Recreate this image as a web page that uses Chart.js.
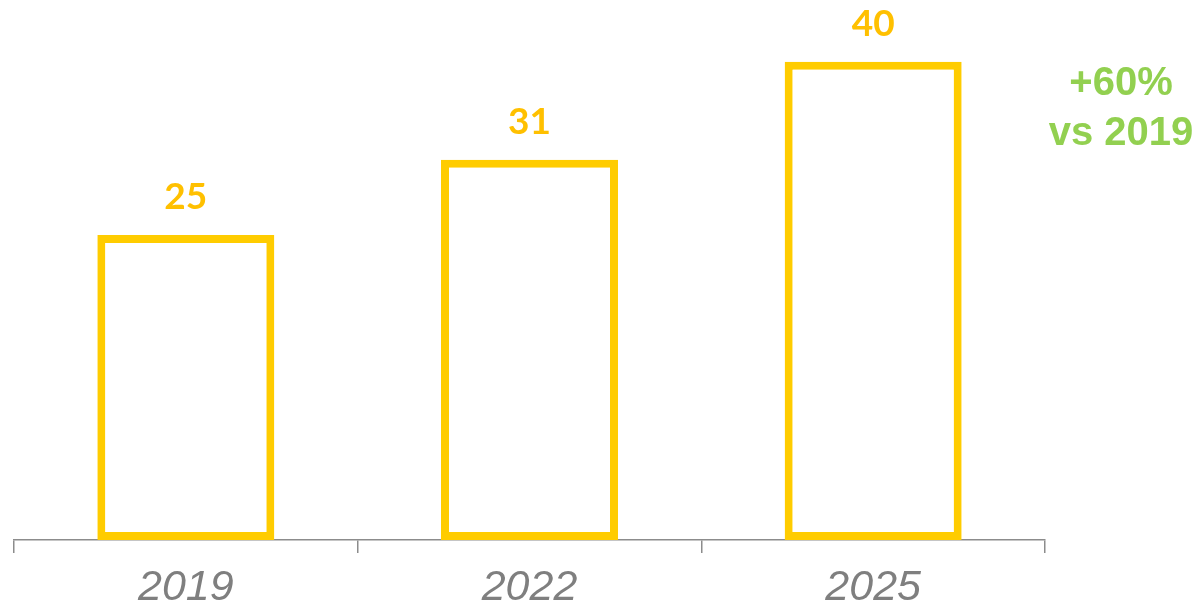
<!DOCTYPE html>
<html>
<head>
<meta charset="utf-8">
<script src="https://cdn.jsdelivr.net/npm/chart.js@4"></script>
<style>
  html, body { margin: 0; padding: 0; background: #fff; }
  #wrap { width: 1204px; height: 608px; position: relative; }
</style>
</head>
<body>
<div id="wrap"><canvas id="chart"></canvas></div>
<script>
// データ（棒の高さから読み取った値、ラベルは四捨五入）
const years = ["2019", "2022", "2025"];
const values = [25.2, 31.4, 39.5];
const noteLines = ["+60%", "vs 2019"];

const barYellow = "#FFCC00";
const labelYellow = "#FFC000";
const noteGreen = "#92D050";
const axisGray = "#8c8c8c";

// 棒の上に値を描く
const valueLabels = {
  id: "valueLabels",
  afterDatasetsDraw(chart) {
    const ctx = chart.ctx;
    const meta = chart.getDatasetMeta(0);
    ctx.save();
    ctx.fillStyle = labelYellow;
    ctx.font = "bold 37px Lato, 'Open Sans', sans-serif";
    ctx.textAlign = "center";
    ctx.textBaseline = "middle";
    meta.data.forEach(function (bar, i) {
      ctx.fillText(Math.round(values[i]), bar.x, bar.y - 38);
    });
    ctx.restore();
  }
};

// 右側の注記
const sideNote = {
  id: "sideNote",
  afterDraw(chart) {
    const ctx = chart.ctx;
    ctx.save();
    ctx.fillStyle = noteGreen;
    ctx.font = "bold 40px 'Liberation Sans', Arial, sans-serif";
    ctx.textAlign = "center";
    ctx.textBaseline = "middle";
    noteLines.forEach(function (t, i) {
      ctx.fillText(t, 1121, 84 + i * 50);
    });
    ctx.restore();
  }
};

new Chart(document.getElementById("chart").getContext("2d"), {
  type: "bar",
  data: {
    labels: years,
    datasets: [{
      data: values,
      backgroundColor: "#ffffff",
      borderColor: barYellow,
      borderWidth: 8,
      borderSkipped: false,
      categoryPercentage: 1,
      barPercentage: 0.515
    }]
  },
  options: {
    responsive: true,
    maintainAspectRatio: false,
    animation: false,
    layout: { padding: { left: 14, right: 159, top: 0, bottom: 0 } },
    plugins: {
      legend: { display: false },
      tooltip: { enabled: false }
    },
    scales: {
      x: {
        offset: true,
        grid: {
          display: true,
          offset: true,
          drawOnChartArea: false,
          drawTicks: true,
          tickLength: 13,
          color: axisGray,
          lineWidth: 1.5
        },
        border: { display: true, color: axisGray, width: 1.5 },
        ticks: {
          color: "#7f7f7f",
          padding: 9,
          font: { family: "'Liberation Sans', Arial, sans-serif", size: 43, style: "italic" }
        },
        afterFit(scale) { scale.height = 68; }
      },
      y: {
        display: false,
        min: 0,
        max: 44.6
      }
    }
  },
  plugins: [valueLabels, sideNote]
});
</script>
</body>
</html>
